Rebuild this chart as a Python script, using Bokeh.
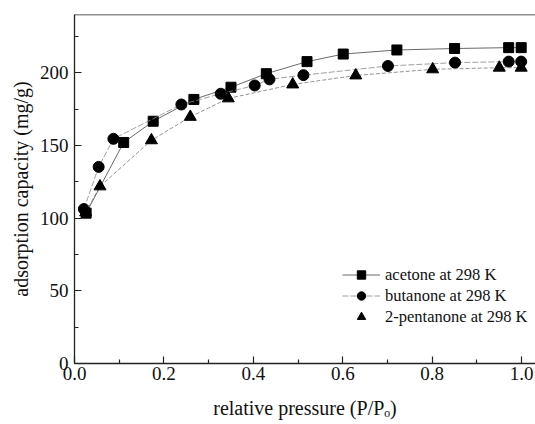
from bokeh.plotting import figure
from bokeh.models import Range1d, Legend, LegendItem, Span, FixedTicker, PrintfTickFormatter
from bokeh.embed import file_html
from bokeh.resources import INLINE

acetone_x = [0.026, 0.110, 0.176, 0.267, 0.350, 0.429, 0.520, 0.601, 0.721, 0.850, 0.971, 0.999]
acetone_y = [103.4, 152.0, 166.6, 181.6, 190.0, 199.3, 207.6, 212.8, 215.6, 216.6, 217.2, 217.2]

butanone_x = [0.021, 0.054, 0.087, 0.239, 0.327, 0.403, 0.436, 0.512, 0.701, 0.851, 0.971, 0.999]
butanone_y = [106.2, 135.2, 154.5, 178.1, 185.5, 191.2, 195.4, 198.3, 204.6, 206.9, 207.6, 207.6]

pentanone_x = [0.025, 0.057, 0.172, 0.259, 0.344, 0.488, 0.629, 0.801, 0.950, 0.999]
pentanone_y = [104.0, 121.8, 153.5, 169.6, 182.3, 191.9, 198.1, 202.3, 203.4, 203.4]

labels = ["acetone at 298 K", "butanone at 298 K", "2-pentanone at 298 K"]
x_ticks = [0.0, 0.2, 0.4, 0.6, 0.8, 1.0]
y_ticks = [0, 50, 100, 150, 200]

FONT = "Liberation Serif"

p = figure(width=535, height=424, output_backend="svg", toolbar_location=None,
           x_range=Range1d(0, 1.031), y_range=Range1d(0, 240),
           min_border_left=74, min_border_right=0, min_border_top=14, min_border_bottom=61)
p.xgrid.visible = False
p.ygrid.visible = False
p.outline_line_color = None
p.background_fill_color = "white"

p.xaxis.ticker = FixedTicker(ticks=x_ticks, minor_ticks=[0.1, 0.3, 0.5, 0.7, 0.9])
p.yaxis.ticker = FixedTicker(ticks=y_ticks, minor_ticks=[25, 75, 125, 175, 225])
p.xaxis.formatter = PrintfTickFormatter(format="%.1f")

for ax in (p.xaxis[0], p.yaxis[0]):
    ax.axis_line_color = "#222"
    ax.axis_line_width = 1.3
    ax.major_tick_in = 7
    ax.major_tick_out = 0
    ax.minor_tick_in = 4
    ax.minor_tick_out = 0
    ax.major_tick_line_color = "#222"
    ax.minor_tick_line_color = "#222"
    ax.major_tick_line_width = 1.2
    ax.minor_tick_line_width = 1.2
    ax.major_label_text_font = FONT
    ax.major_label_text_font_size = "19px"
    ax.major_label_text_color = "#111"
    ax.axis_label_text_font = FONT
    ax.axis_label_text_font_size = "20px"
    ax.axis_label_text_font_style = "normal"
    ax.axis_label_text_color = "#111"

p.xaxis.major_label_standoff = 3
p.yaxis.major_label_standoff = 6
p.xaxis.axis_label = "relative pressure (P/P\u2092)"
p.yaxis.axis_label = "adsorption capacity (mg/g)"
p.xaxis.axis_label_standoff = 14
p.yaxis.axis_label_standoff = 5

p.add_layout(Span(location=240, dimension="width", line_color="#222", line_width=1.3))

l1 = p.line(acetone_x, acetone_y, line_color="#444", line_width=0.8)
s1 = p.scatter(acetone_x, acetone_y, marker="square", size=10, color="black")
l2 = p.line(butanone_x, butanone_y, line_color="#888", line_width=0.8, line_dash="6 2")
s2 = p.scatter(butanone_x, butanone_y, marker="circle", size=11, color="black")
l3 = p.line(pentanone_x, pentanone_y, line_color="#777", line_width=0.8, line_dash="4 2")
s3 = p.scatter(pentanone_x, pentanone_y, marker="triangle", size=12, color="black")

legend = Legend(items=[LegendItem(label=labels[0], renderers=[l1, s1]),
                       LegendItem(label=labels[1], renderers=[l2, s2]),
                       LegendItem(label=labels[2], renderers=[s3])],
                location=(268, 36), padding=0, margin=0, spacing=0,
                glyph_width=38, glyph_height=21, label_height=21, label_standoff=5,
                label_text_font=FONT, label_text_font_size="16.5px", label_text_color="#111",
                border_line_color=None, background_fill_alpha=0)
p.add_layout(legend, "center")

open("out.html", "w").write(file_html(p, INLINE))
